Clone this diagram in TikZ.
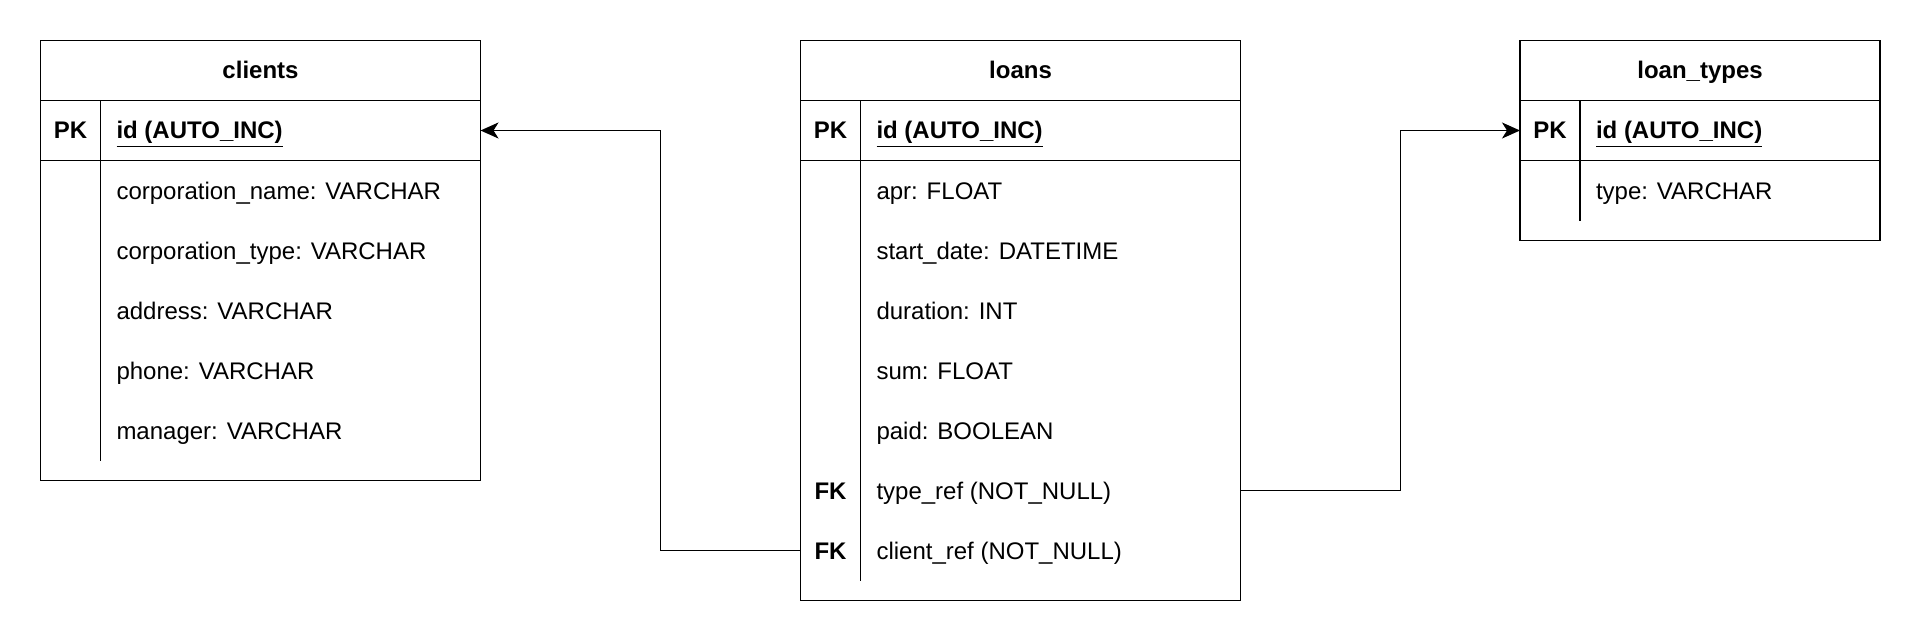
\documentclass[tikz,border=0pt]{standalone}
\usepackage{fontspec}
\setmainfont{Liberation Sans}
\usetikzlibrary{arrows.meta,positioning}

\newcommand\erfont{\fontsize{12pt}{14pt}\selectfont}

\begin{document}
\begin{tikzpicture}
[x=1pt,y=-1pt,
line width=0.8pt,
font=\erfont,
table/.style={draw,rectangle,anchor=north west,minimum width=220pt,inner sep=0pt,outer sep=0pt},
head/.style={font=\erfont\bfseries,minimum height=30pt,inner sep=0pt,outer sep=0pt,text height=11pt,text depth=2.5pt},
field/.style={font=\erfont,minimum height=30pt,inner sep=0pt,outer sep=0pt,text height=11pt,text depth=2.5pt},
key/.style={field,font=\erfont\bfseries,minimum width=30pt},
fk/.style={-{Stealth[length=9pt,width=8pt,inset=2.5pt]},line width=0.8pt}]
\useasboundingbox (0,0) rectangle (961,321);

% clients
\node[table,minimum height=220pt] (clients) at (20.25,20.25) {};
\node[head,below=0pt of clients.north] (clients-head) {clients};
\node[field,below right=30pt and 38pt of clients.north west] (clients-id) {\textbf{\underline{id (AUTO\_INC)}}};
\node[key,left=8pt of clients-id] (clients-pk) {PK};
\node[field,below right=0pt of clients-id.south west] (clients-name) {corporation\_name: VARCHAR};
\node[field,below right=0pt of clients-name.south west] (clients-type) {corporation\_type: VARCHAR};
\node[field,below right=0pt of clients-type.south west] (clients-address) {address: VARCHAR};
\node[field,below right=0pt of clients-address.south west] (clients-phone) {phone: VARCHAR};
\node[field,below right=0pt of clients-phone.south west] (clients-manager) {manager: VARCHAR};
\draw ([yshift=-30pt]clients.north west) -- ([yshift=-30pt]clients.north east);
\draw ([yshift=-60pt]clients.north west) -- ([yshift=-60pt]clients.north east);
\draw ([shift={(30pt,-30pt)}]clients.north west) -- ([shift={(30pt,10pt)}]clients.south west);

% loans
\node[table,minimum height=280pt] (loans) at (400.25,20.25) {};
\node[head,below=0pt of loans.north] (loans-head) {loans};
\node[field,below right=30pt and 38pt of loans.north west] (loans-id) {\textbf{\underline{id (AUTO\_INC)}}};
\node[key,left=8pt of loans-id] (loans-pk) {PK};
\node[field,below right=0pt of loans-id.south west] (loans-apr) {apr: FLOAT};
\node[field,below right=0pt of loans-apr.south west] (loans-start) {start\_date: DATETIME};
\node[field,below right=0pt of loans-start.south west] (loans-duration) {duration: INT};
\node[field,below right=0pt of loans-duration.south west] (loans-sum) {sum: FLOAT};
\node[field,below right=0pt of loans-sum.south west] (loans-paid) {paid: BOOLEAN};
\node[field,below right=0pt of loans-paid.south west] (loans-tref) {type\_ref (NOT\_NULL)};
\node[key,left=8pt of loans-tref] (loans-fk1) {FK};
\node[field,below right=0pt of loans-tref.south west] (loans-cref) {client\_ref (NOT\_NULL)};
\node[key,left=8pt of loans-cref] (loans-fk2) {FK};
\draw ([yshift=-30pt]loans.north west) -- ([yshift=-30pt]loans.north east);
\draw ([yshift=-60pt]loans.north west) -- ([yshift=-60pt]loans.north east);
\draw ([shift={(30pt,-30pt)}]loans.north west) -- ([shift={(30pt,10pt)}]loans.south west);

% loan_types
\node[table,minimum width=180pt,minimum height=100pt] (types) at (760,20.25) {};
\node[head,below=0pt of types.north] (types-head) {loan\_types};
\node[field,below right=30pt and 38pt of types.north west] (types-id) {\textbf{\underline{id (AUTO\_INC)}}};
\node[key,left=8pt of types-id] (types-pk) {PK};
\node[field,below right=0pt of types-id.south west] (types-type) {type: VARCHAR};
\draw ([yshift=-30pt]types.north west) -- ([yshift=-30pt]types.north east);
\draw ([yshift=-60pt]types.north west) -- ([yshift=-60pt]types.north east);
\draw ([shift={(30pt,-30pt)}]types.north west) -- ([shift={(30pt,10pt)}]types.south west);

% references
\draw[fk] (loans.west |- loans-cref) -- ++(-70,0) |- (clients.east |- clients-id);
\draw[fk] (loans.east |- loans-tref) -- ++(80,0) |- (types.west |- types-id);
\end{tikzpicture}
\end{document}
